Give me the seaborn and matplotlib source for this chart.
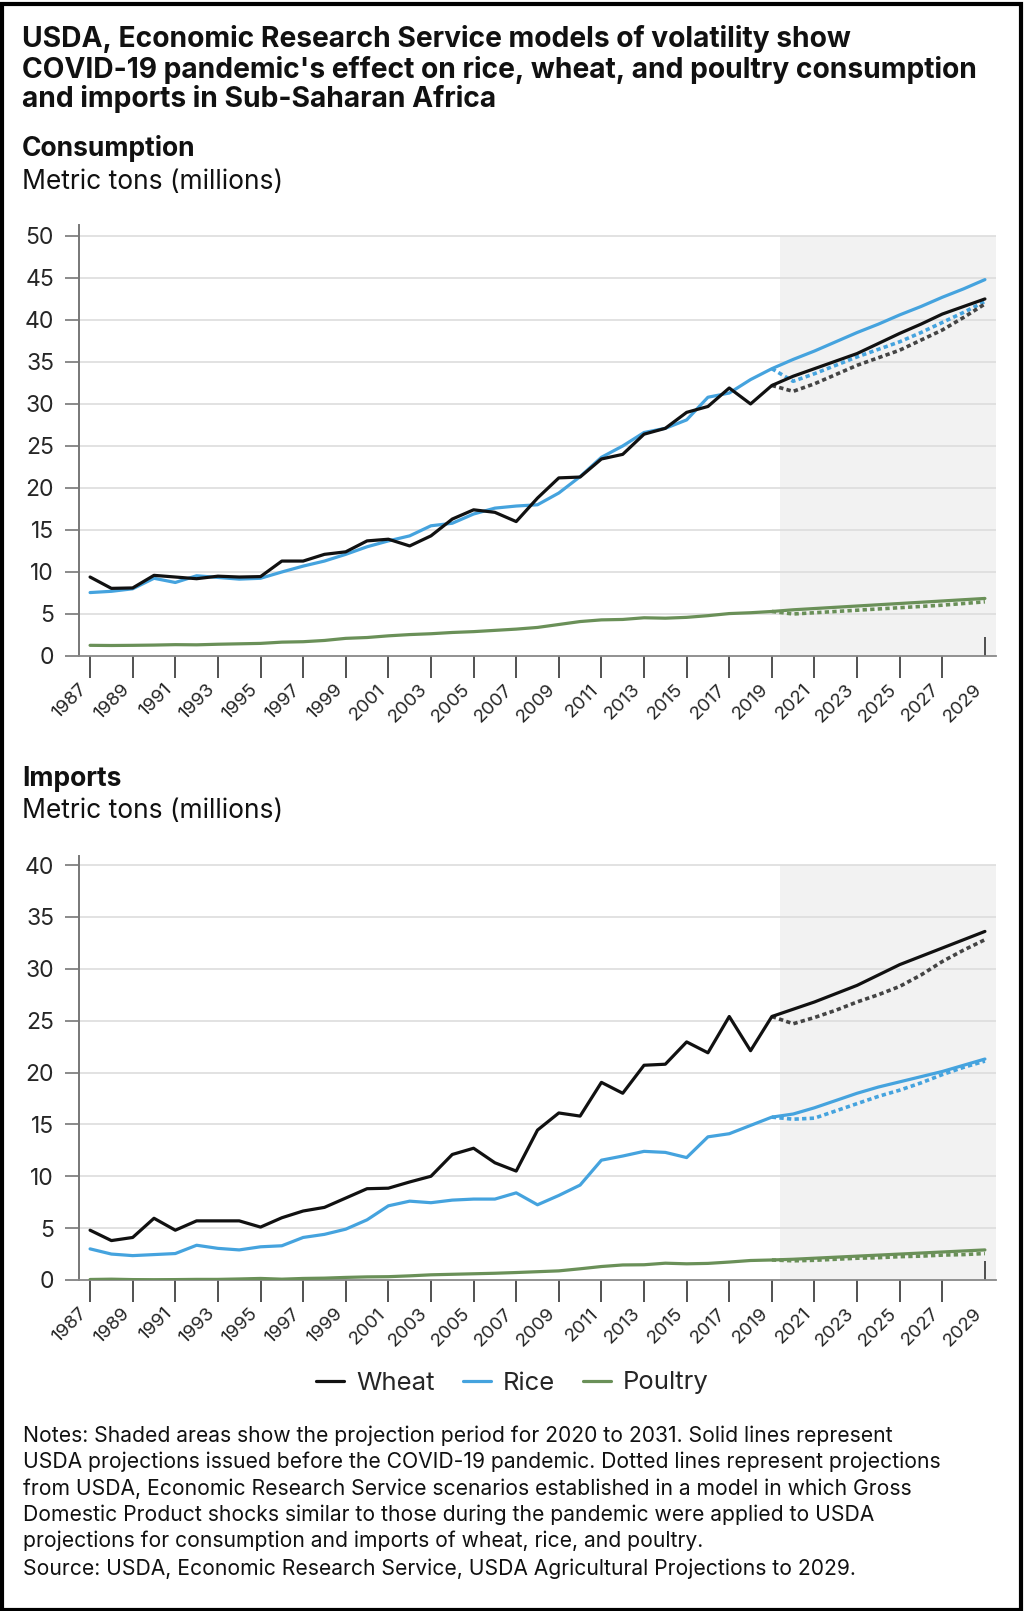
import numpy as np
import pandas as pd
import matplotlib
matplotlib.use("Agg")
import matplotlib.pyplot as plt
import matplotlib.lines as mlines
from matplotlib.patches import Rectangle
import seaborn as sns

# ---------------- data ----------------
years_hist = list(range(1987, 2020))
years_proj = list(range(2020, 2030))

cons_wheat_hist = [9.4, 8.05, 8.1, 9.6, 9.4, 9.2, 9.5, 9.4, 9.45, 11.3, 11.3, 12.1, 12.4, 13.7, 13.9,
                   13.1, 14.3, 16.3, 17.4, 17.1, 16.0, 18.8, 21.2, 21.3, 23.45, 24.0, 26.4, 27.1,
                   29.0, 29.7, 31.9, 30.0, 32.2]
cons_rice_hist = [7.55, 7.7, 8.0, 9.25, 8.75, 9.55, 9.35, 9.15, 9.25, 10.0, 10.7, 11.3, 12.1, 13.0,
                  13.7, 14.3, 15.5, 15.8, 16.9, 17.6, 17.85, 18.0, 19.4, 21.35, 23.65, 25.0, 26.6,
                  27.1, 28.1, 30.8, 31.3, 32.9, 34.2]
cons_poultry_hist = [1.27, 1.25, 1.27, 1.3, 1.35, 1.33, 1.4, 1.45, 1.5, 1.65, 1.7, 1.85, 2.1, 2.2,
                     2.4, 2.55, 2.65, 2.8, 2.9, 3.05, 3.2, 3.4, 3.75, 4.1, 4.3, 4.35, 4.55, 4.5,
                     4.6, 4.8, 5.05, 5.15, 5.3]
cons_wheat_base = [33.3, 34.2, 35.1, 36.0, 37.2, 38.4, 39.5, 40.7, 41.6, 42.5]
cons_rice_base = [35.3, 36.3, 37.4, 38.5, 39.5, 40.6, 41.6, 42.7, 43.7, 44.8]
cons_poultry_base = [5.5, 5.65, 5.8, 5.95, 6.1, 6.25, 6.4, 6.55, 6.7, 6.85]
cons_wheat_covid = [31.5, 32.4, 33.5, 34.6, 35.5, 36.4, 37.6, 38.8, 40.3, 41.9]
cons_rice_covid = [32.7, 33.6, 34.6, 35.6, 36.5, 37.4, 38.5, 39.7, 40.9, 42.2]
cons_poultry_covid = [5.0, 5.15, 5.3, 5.45, 5.6, 5.75, 5.9, 6.05, 6.25, 6.45]

imp_wheat_hist = [4.8, 3.8, 4.1, 5.95, 4.8, 5.7, 5.7, 5.7, 5.1, 6.0, 6.65, 7.0, 7.9, 8.8, 8.85,
                  9.45, 10.0, 12.1, 12.7, 11.3, 10.5, 14.45, 16.1, 15.8, 19.05, 18.0, 20.7, 20.8,
                  22.95, 21.9, 25.4, 22.1, 25.4]
imp_rice_hist = [3.0, 2.5, 2.35, 2.45, 2.55, 3.35, 3.05, 2.9, 3.2, 3.3, 4.1, 4.4, 4.9, 5.8, 7.15,
                 7.6, 7.45, 7.7, 7.8, 7.8, 8.4, 7.25, 8.15, 9.15, 11.55, 11.95, 12.4, 12.3, 11.8,
                 13.8, 14.1, 14.9, 15.7]
imp_poultry_hist = [0.05, 0.08, 0.04, 0.03, 0.04, 0.06, 0.06, 0.1, 0.15, 0.08, 0.15, 0.18, 0.25,
                    0.3, 0.32, 0.4, 0.5, 0.55, 0.6, 0.65, 0.72, 0.8, 0.88, 1.08, 1.3, 1.45, 1.47,
                    1.62, 1.56, 1.6, 1.73, 1.88, 1.93]
imp_wheat_base = [26.1, 26.8, 27.6, 28.4, 29.4, 30.4, 31.2, 32.0, 32.8, 33.6]
imp_rice_base = [16.0, 16.6, 17.3, 18.0, 18.6, 19.1, 19.6, 20.1, 20.7, 21.3]
imp_poultry_base = [2.0, 2.1, 2.2, 2.3, 2.4, 2.5, 2.6, 2.7, 2.8, 2.9]
imp_wheat_covid = [24.7, 25.3, 26.0, 26.8, 27.5, 28.3, 29.4, 30.7, 31.8, 32.8]
imp_rice_covid = [15.5, 15.6, 16.3, 17.0, 17.7, 18.3, 19.0, 19.8, 20.5, 21.1]
imp_poultry_covid = [1.85, 1.9, 2.0, 2.1, 2.15, 2.25, 2.3, 2.4, 2.45, 2.55]

crops = ["Wheat", "Rice", "Poultry"]
x_tick_years = list(range(1987, 2030, 2))
cons_yticks = [0, 5, 10, 15, 20, 25, 30, 35, 40, 45, 50]
imp_yticks = [0, 5, 10, 15, 20, 25, 30, 35, 40]

title_lines = ["USDA, Economic Research Service models of volatility show",
               "COVID-19 pandemic's effect on rice, wheat, and poultry consumption",
               "and imports in Sub-Saharan Africa"]
note_lines = ["Notes: Shaded areas show the projection period for 2020 to 2031. Solid lines represent",
              "USDA projections issued before the COVID-19 pandemic. Dotted lines represent projections",
              "from USDA, Economic Research Service scenarios established in a model in which Gross",
              "Domestic Product shocks similar to those during the pandemic were applied to USDA",
              "projections for consumption and imports of wheat, rice, and poultry.",
              "Source: USDA, Economic Research Service, USDA Agricultural Projections to 2029."]

# ---------------- style ----------------
sns.set_theme(style="white")
plt.rcParams["font.family"] = ["Inter", "DejaVu Sans"]

colors = {"Wheat": "#111111", "Rice": "#45a3de", "Poultry": "#6a9058"}
dot_colors = {"Wheat": "#444444", "Rice": "#45a3de", "Poultry": "#6a9058"}

W, H = 1025, 1611
fig = plt.figure(figsize=(W / 100, H / 100), dpi=100)

def build_df(hist, base, covid):
    rows = []
    for crop, h, b, c in zip(crops, hist, base, covid):
        for yr, v in zip(years_hist + years_proj, h + b):
            rows.append((yr, v, crop, "Baseline"))
        for yr, v in zip([years_hist[-1]] + years_proj, [h[-1]] + c):
            rows.append((yr, v, crop, "COVID"))
    return pd.DataFrame(rows, columns=["year", "value", "crop", "scenario"])

df_cons = build_df([cons_wheat_hist, cons_rice_hist, cons_poultry_hist],
                   [cons_wheat_base, cons_rice_base, cons_poultry_base],
                   [cons_wheat_covid, cons_rice_covid, cons_poultry_covid])
df_imp = build_df([imp_wheat_hist, imp_rice_hist, imp_poultry_hist],
                  [imp_wheat_base, imp_rice_base, imp_poultry_base],
                  [imp_wheat_covid, imp_rice_covid, imp_poultry_covid])

def px_rect(l, t, r, b):
    return [l / W, 1 - b / H, (r - l) / W, (b - t) / H]

def draw_panel(ax, df, yticks, ytop):
    ax.set_xlim(1986.48, 2029.52)
    ax.set_ylim(0, ytop)
    ax.axvspan(2019.4, 2029.52, ymin=0, ymax=yticks[-1] / ytop, color="#f2f2f2", zorder=0, lw=0)
    for yv in yticks[1:]:
        ax.axhline(yv, color="#dddddd", lw=1.2, zorder=1)
    for crop in ["Poultry", "Rice", "Wheat"]:
        d = df[(df.crop == crop) & (df.scenario == "COVID")]
        sns.lineplot(data=d, x="year", y="value", ax=ax, color=dot_colors[crop], lw=2.6,
                     linestyle=(0, (1.2, 0.9)), zorder=3, legend=False)
    for crop in ["Poultry", "Rice", "Wheat"]:
        d = df[(df.crop == crop) & (df.scenario == "Baseline")]
        sns.lineplot(data=d, x="year", y="value", ax=ax, color=colors[crop], lw=2.3,
                     zorder=4, legend=False)
    ax.set_xlabel("")
    ax.set_ylabel("")
    ax.set_yticks(yticks)
    ax.set_yticklabels([str(v) for v in yticks], fontsize=16.5)
    ax.set_xticks(x_tick_years)
    ax.set_xticklabels([str(v) for v in x_tick_years], rotation=45, ha="right",
                       fontsize=13.5)
    ax.tick_params(axis="y", length=10, width=1.2, color="#777777", pad=8, left=True)
    ax.tick_params(axis="x", length=16, width=1.1, color="#222222", pad=2, bottom=True)
    last = ax.xaxis.get_major_ticks()[-1]
    last.tick1line.set_marker(mlines.TICKUP)
    last.tick1line.set_markersize(14)
    last.tick1line.set_color("#777777")
    for s in ["top", "right"]:
        ax.spines[s].set_visible(False)
    ax.spines["left"].set_color("#777777")
    ax.spines["left"].set_linewidth(1.4)
    ax.spines["bottom"].set_color("#888888")
    ax.spines["bottom"].set_linewidth(1.3)
    ax.set_facecolor("none")

ax1 = fig.add_axes(px_rect(79, 225, 996, 656))
draw_panel(ax1, df_cons, cons_yticks, 51.3)
ax2 = fig.add_axes(px_rect(79, 856, 996, 1280))
draw_panel(ax2, df_imp, imp_yticks, 40.87)

# ---------------- texts ----------------
def txt(x, y, s, **kw):
    fig.text(x / W, 1 - y / H, s, ha="left", va="baseline", color="#111111", **kw)

for yb, line in zip([47.3, 78, 107], title_lines):
    txt(22, yb, line, fontsize=20.3, fontweight="bold")
txt(22, 156.5, "Consumption", fontsize=19, fontweight="bold")
txt(22, 189, "Metric tons (millions)", fontsize=19)
txt(22, 786, "Imports", fontsize=19, fontweight="bold")
txt(22, 818, "Metric tons (millions)", fontsize=19)

handles = [mlines.Line2D([], [], color=colors[c], lw=2.3) for c in crops]
fig.legend(handles, crops, loc="center", bbox_to_anchor=(0.5, 1 - 1383 / H), ncol=3,
           frameon=False, fontsize=18.5, handlelength=1.1, handletextpad=0.45, columnspacing=1.1)

note_base = [1441.7, 1468.3, 1495, 1521, 1547.3, 1575]
for yb, line in zip(note_base, note_lines):
    txt(23, yb, line, fontsize=15.2)

fig.patches.append(Rectangle((1.5 / W, 1.5 / H), 1 - 6 / W, 1 - 5 / H, transform=fig.transFigure,
                             fill=False, edgecolor="black", lw=3))

fig.savefig("out.png", dpi=100)
